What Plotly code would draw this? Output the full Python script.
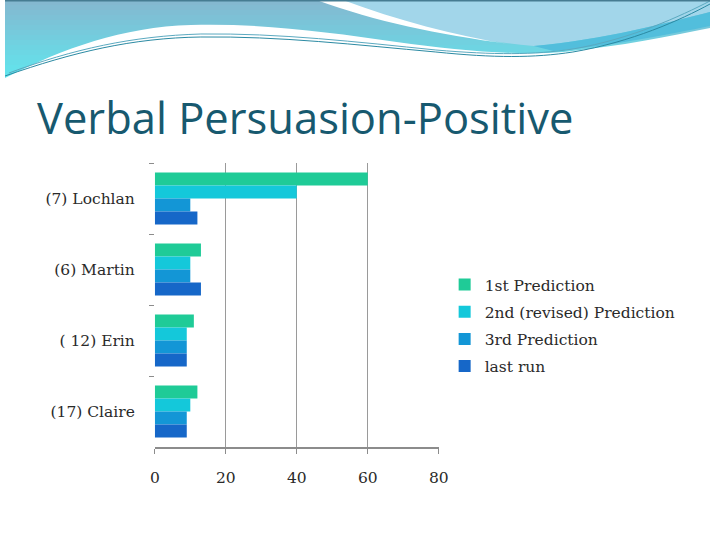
import plotly.graph_objects as go

# ---- data ----
students = ["(7) Lochlan", "(6) Martin", "( 12) Erin", "(17) Claire"]
series_names = ["1st Prediction", "2nd (revised) Prediction", "3rd Prediction", "last run"]
first_pred = [60, 13, 11, 12]
second_pred = [40, 10, 9, 10]
third_pred = [10, 10, 9, 9]
last_run = [12, 13, 9, 9]
x_ticks = [0, 20, 40, 60, 80]

colors = ["#1fcb97", "#14c8da", "#1396d6", "#1667c8"]
W, H = 720, 540
SERIF = "DejaVu Serif"


def P(x, y):
    return f"{x / W:.5f},{1 - y / H:.5f}"


def lerp(c1, c2, t):
    a = [int(c1[i:i + 2], 16) for i in (1, 3, 5)]
    b = [int(c2[i:i + 2], 16) for i in (1, 3, 5)]
    return "#" + "".join(f"{round(a[k] + (b[k] - a[k]) * t):02x}" for k in range(3))


fig = go.Figure()
for name, vals, col in zip(series_names, [first_pred, second_pred, third_pred, last_run], colors):
    fig.add_trace(go.Bar(y=students, x=vals, name=name, orientation="h",
                         marker=dict(color=col, line=dict(width=0)),
                         legendgroup=name))

shapes = []
# header gradient band
n = 16
for i in range(n):
    y0 = i * 80 / n
    y1 = (i + 1) * 80 / n + 0.6
    shapes.append(dict(type="rect", xref="paper", yref="paper", layer="below",
                       x0=0, x1=1, y0=1 - y1 / H, y1=1 - y0 / H,
                       fillcolor=lerp("#84b8d0", "#60e6ee", i / (n - 1)), line=dict(width=0)))
# right lighter region
shapes.append(dict(type="path", xref="paper", yref="paper", layer="below",
                   path=f"M {P(325,0)} C {P(400,25)} {P(470,40)} {P(540,46)} C {P(610,40)} {P(680,22)} {P(720,12)} L {P(720,0)} Z",
                   fillcolor="#a2d6ea", line=dict(width=0)))
# blue band at right below light region
shapes.append(dict(type="path", xref="paper", yref="paper", layer="below",
                   path=f"M {P(540,46)} C {P(610,40)} {P(680,22)} {P(720,12)} L {P(720,26)} C {P(680,34)} {P(620,46)} {P(560,51)} Z",
                   fillcolor="#52bedc", line=dict(width=0)))
# white swoosh stripe
shapes.append(dict(type="path", xref="paper", yref="paper", layer="below",
                   path=f"M {P(318,0)} L {P(345,0)} C {P(400,20)} {P(460,36)} {P(515,44)} C {P(440,34)} {P(380,22)} {P(318,0)} Z",
                   fillcolor="#ffffff", line=dict(width=0)))
# white body region
shapes.append(dict(type="path", xref="paper", yref="paper", layer="below",
                   path=f"M {P(0,78)} C {P(60,48)} {P(120,27)} {P(190,25)} C {P(260,23)} {P(330,32)} {P(400,42)} C {P(460,50)} {P(520,56)} {P(570,52)} C {P(630,46)} {P(680,36)} {P(720,28)} L {P(720,100)} L {P(0,100)} Z",
                   fillcolor="#ffffff", line=dict(width=0)))
# thin decorative lines
shapes.append(dict(type="path", xref="paper", yref="paper", layer="below",
                   path=f"M {P(0,76)} C {P(70,52)} {P(130,38)} {P(200,37)} C {P(280,36)} {P(360,45)} {P(440,52)} C {P(500,58)} {P(540,58)} {P(580,52)} C {P(640,42)} {P(690,20)} {P(720,4)}",
                   line=dict(color="#2b8aa3", width=1)))
shapes.append(dict(type="path", xref="paper", yref="paper", layer="below",
                   path=f"M {P(4,73)} C {P(70,49)} {P(130,36)} {P(200,34)} C {P(280,33)} {P(360,42)} {P(440,50)} C {P(500,55)} {P(540,55)} {P(580,49)} C {P(640,39)} {P(690,16)} {P(720,1)}",
                   line=dict(color="#5aa9c0", width=1)))
# top border line
shapes.append(dict(type="line", xref="paper", yref="paper", layer="below",
                   x0=0, x1=1, y0=1 - 0.8 / H, y1=1 - 0.8 / H, line=dict(color="#467c92", width=1.5)))

fig.update_layout(
    width=W, height=H,
    margin=dict(l=0, r=0, t=0, b=0),
    paper_bgcolor="#ffffff", plot_bgcolor="rgba(0,0,0,0)",
    barmode="group", bargap=0.27, bargroupgap=0,
    shapes=shapes,
    showlegend=True,
    legend=dict(x=449 / W, y=1 - 268 / H, xanchor="left", yanchor="top",
                font=dict(family=SERIF, size=15.5, color="#2a2a2a"),
                traceorder="grouped", tracegroupgap=4, itemwidth=30,
                bgcolor="rgba(0,0,0,0)"),
    annotations=[dict(text="Verbal Persuasion-Positive", xref="paper", yref="paper",
                      x=31 / W, y=1 - 117 / H, xanchor="left", yanchor="middle",
                      showarrow=False,
                      font=dict(family="Open Sans", size=43.5, color="#17596f"))],
    xaxis=dict(domain=[153 / W, 443 / W], range=[0, 80], tickvals=x_ticks,
               showgrid=True, gridcolor="#9a9a9a", gridwidth=1,
               zeroline=True, zerolinecolor="rgba(0,0,0,0)",
               showline=True, linecolor="#8c8c8c", linewidth=1.5,
               ticks="outside", ticklen=5, tickcolor="#8c8c8c",
               ticklabelstandoff=11,
               tickfont=dict(family=SERIF, size=15.5, color="#2a2a2a"),
               fixedrange=True),
    yaxis=dict(domain=[93 / H, 377 / H], autorange="reversed", type="category",
               showgrid=False, showline=False, zeroline=False,
               ticks="outside", tickson="boundaries", ticklen=5, tickcolor="#8c8c8c",
               ticklabelstandoff=19,
               tickfont=dict(family=SERIF, size=15.5, color="#2a2a2a"),
               fixedrange=True),
)

fig.write_html("out.html", config={"displayModeBar": False},
               post_script="document.body.style.margin='0';")
